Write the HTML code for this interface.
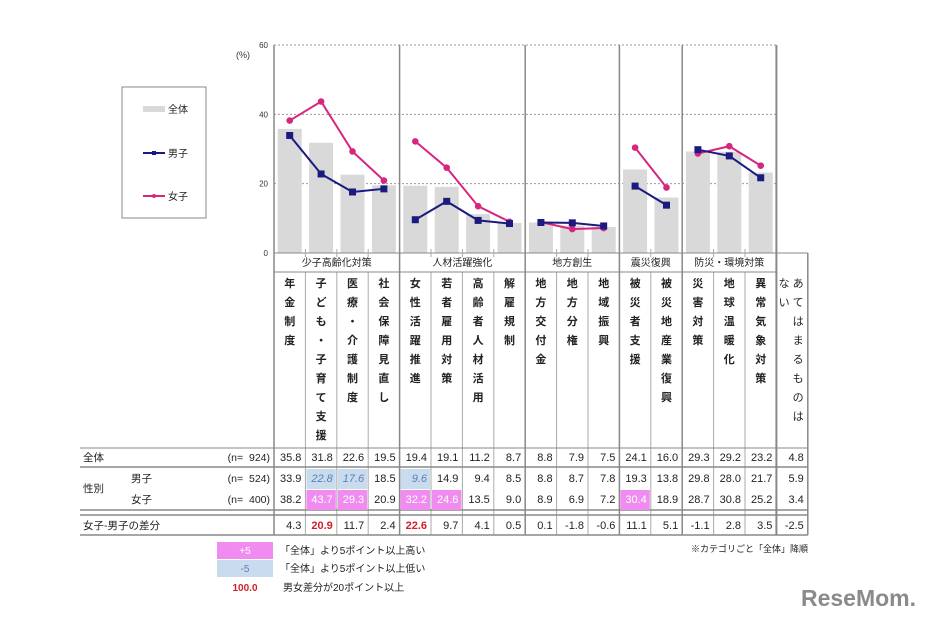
<!DOCTYPE html>
<html><head><meta charset="utf-8"><style>
body{margin:0;background:#fff}
svg{display:block;font-family:"Liberation Sans","Noto Sans CJK JP",sans-serif}
</style></head><body>
<svg id="c" width="930" height="620" viewBox="0 0 930 620"></svg>
<script>
const categories=["年金制度","子ども・子育て支援","医療・介護制度","社会保障見直し","女性活躍推進","若者雇用対策","高齢者人材活用","解雇規制","地方交付金","地方分権","地域振興","被災者支援","被災地産業復興","災害対策","地球温暖化","異常気象対策","あてはまるものはない"];
const totalVals=[35.8,31.8,22.6,19.5,19.4,19.1,11.2,8.7,8.8,7.9,7.5,24.1,16.0,29.3,29.2,23.2,4.8];
const maleVals=[33.9,22.8,17.6,18.5,9.6,14.9,9.4,8.5,8.8,8.7,7.8,19.3,13.8,29.8,28.0,21.7,5.9];
const femaleVals=[38.2,43.7,29.3,20.9,32.2,24.6,13.5,9.0,8.9,6.9,7.2,30.4,18.9,28.7,30.8,25.2,3.4];
const diffVals=[4.3,20.9,11.7,2.4,22.6,9.7,4.1,0.5,0.1,-1.8,-0.6,11.1,5.1,-1.1,2.8,3.5,-2.5];
const groupNames=["少子高齢化対策","人材活躍強化","地方創生","震災復興","防災・環境対策"];
const groupSizes=[4,4,3,2,3];
const yTicks=[0,20,40,60];

const svg=document.getElementById('c');const NS='http://www.w3.org/2000/svg';
function mk(t,a,txt){const e=document.createElementNS(NS,t);for(const k in a)e.setAttribute(k,a[k]);if(txt!=null)e.textContent=txt;svg.appendChild(e);return e;}
const X0=274,CW=31.4,Y0=253,YS=208/60;
const xc=i=>X0+CW*(i+0.5), y=v=>Y0-v*YS;
const nPlot=16,plotR=X0+CW*nPlot;
yTicks.forEach(t=>{
 if(t>0){const g=mk('line',{x1:X0,x2:plotR,y1:y(t),y2:y(t),stroke:'#999','stroke-dasharray':'2,2'});
 }
 const l=mk('text',{x:268,y:y(t)+3,'font-size':8,'text-anchor':'end',fill:'#333'},String(t));
 
});
mk('text',{x:236,y:58,'font-size':9,fill:'#333',},'(%)');
for(let i=0;i<nPlot;i++){
 const b=mk('rect',{x:xc(i)-12,y:y(totalVals[i]),width:24,height:totalVals[i]*YS,fill:'#d9d9d9'});
 
}
let start=0;const bounds=[];
groupSizes.forEach(s=>{bounds.push([start,start+s-1]);start+=s;});
function series(vals,color,shape,name){
 bounds.forEach(([a,b])=>{
  let d='';for(let i=a;i<=b;i++)d+=(i==a?'M':'L')+xc(i)+','+y(vals[i]);
  const p=mk('path',{d:d,fill:'none',stroke:color,'stroke-width':2});
  
 });
 for(let i=0;i<nPlot;i++){
  let m;
  if(shape=='sq')m=mk('rect',{x:xc(i)-3.5,y:y(vals[i])-3.5,width:7,height:7,fill:color});
  else m=mk('circle',{cx:xc(i),cy:y(vals[i]),r:3.3,fill:color});
  
 }
}
series(femaleVals,'#d6267e','ci','female');
series(maleVals,'#1a1a80','sq','male');
mk('line',{x1:X0,x2:X0,y1:45,y2:535,stroke:'#888','stroke-width':1.5});
mk('line',{x1:X0,x2:plotR,y1:Y0,y2:Y0,stroke:'#888'});
let bx=0;
groupSizes.forEach((s,gi)=>{
 const xa=X0+CW*bx,xb=X0+CW*(bx+s);
 const t=mk('text',{x:(xa+xb)/2,y:266,'font-size':10,'text-anchor':'middle',fill:'#222'},groupNames[gi]);
 
 mk('line',{x1:xb,x2:xb,y1:45,y2:535,stroke:'#888','stroke-width':gi==groupSizes.length-1?2:1.5});
 for(let k=1;k<s;k++){const xx=xa+CW*k;mk('line',{x1:xx,x2:xx,y1:272,y2:535,stroke:'#aaa'});mk('line',{x1:xx,x2:xx,y1:249,y2:257,stroke:'#aaa'});}
 bx+=s;
});
mk('line',{x1:plotR+CW,x2:plotR+CW,y1:253,y2:535,stroke:'#888','stroke-width':1.5});
mk('line',{x1:X0,x2:plotR,y1:272,y2:272,stroke:'#888'});
mk('line',{x1:plotR,x2:plotR+CW,y1:253,y2:253,stroke:'#888'});
categories.forEach((c,i)=>{
 const chars=[...c];
 if(i==16){
  const a=[..."あてはまるものは"],b=[..."ない"];
  a.forEach((ch,k)=>mk('text',{x:xc(i)+6,y:287+k*19,'font-size':11,'text-anchor':'middle',fill:'#222'},ch));
  b.forEach((ch,k)=>mk('text',{x:xc(i)-8,y:287+k*19,'font-size':11,'text-anchor':'middle',fill:'#222'},ch));
  return;
 }
 chars.forEach((ch,k)=>{const t=mk('text',{x:xc(i),y:287+k*19,'font-size':11,'font-weight':'bold','text-anchor':'middle',fill:'#222'},ch);
 });
});
const TR=plotR+CW;
[[448,1],[467,1.5],[510,1.5],[515,1.5],[535,1.5]].forEach(([yy,w])=>mk('line',{x1:80,x2:TR,y1:yy,y2:yy,stroke:'#888','stroke-width':w}));
mk('text',{x:83,y:461,'font-size':10.5,fill:'#222'},'全体');
mk('text',{x:83,y:492,'font-size':10.5,fill:'#222'},'性別');
mk('text',{x:131,y:482,'font-size':10.5,fill:'#222'},'男子');
mk('text',{x:131,y:503,'font-size':10.5,fill:'#222'},'女子');
mk('text',{x:83,y:529,'font-size':10.5,fill:'#222'},'女子-男子の差分');
[['(n=\u00a0\u00a0924)',461],['(n=\u00a0\u00a0524)',482],['(n=\u00a0\u00a0400)',503]].forEach(([s,yy])=>mk('text',{x:270,y:yy,'font-size':10.5,'text-anchor':'end',fill:'#222'},s));
function cell(vals,i,yy,top,h,kind){
 const v=vals[i];let fill='#222',style='normal',weight='normal';
 if(kind=='m'&&v<=totalVals[i]-5){mk('rect',{x:X0+CW*i+1,y:top,width:CW-2,height:h,fill:'#c9dcee'});fill='#5b7fb5';style='italic';}
 if(kind=='f'&&v>=totalVals[i]+5){mk('rect',{x:X0+CW*i+1,y:top,width:CW-2,height:h,fill:'#f08cf0'});fill='#fff';}
 if(kind=='d'&&v>=20){fill='#d0202a';weight='bold';}
 const t=mk('text',{x:X0+CW*(i+1)-4,y:yy,'font-size':11,'text-anchor':'end',fill:fill,'font-style':style,'font-weight':weight},v.toFixed(1));
 
}
for(let i=0;i<17;i++){cell(totalVals,i,461,448,19,'t');cell(maleVals,i,482,469,20,'m');cell(femaleVals,i,503,490,20,'f');cell(diffVals,i,529,516,19,'d');}
mk('rect',{x:217,y:542,width:56,height:17,fill:'#f08cf0'});
mk('text',{x:245,y:554,'font-size':10,'text-anchor':'middle',fill:'#fff'},'+5');
mk('rect',{x:217,y:560,width:56,height:17,fill:'#c9dcee'});
mk('text',{x:245,y:572,'font-size':10,'text-anchor':'middle',fill:'#5b7fb5'},'-5');
mk('text',{x:245,y:591,'font-size':10,'font-weight':'bold','text-anchor':'middle',fill:'#d0202a'},'100.0');
mk('text',{x:280,y:554,'font-size':10,fill:'#222'},'「全体」より5ポイント以上高い');
mk('text',{x:280,y:572,'font-size':10,fill:'#222'},'「全体」より5ポイント以上低い');
mk('text',{x:283,y:591,'font-size':10,fill:'#222'},'男女差分が20ポイント以上');
mk('text',{x:808,y:552,'font-size':9,'text-anchor':'end',fill:'#222'},'※カテゴリごと「全体」降順');
mk('rect',{x:122,y:87,width:84,height:131,fill:'#fff',stroke:'#888',});
mk('rect',{x:143,y:106,width:22,height:6,fill:'#d9d9d9'});
mk('text',{x:168,y:113,'font-size':10,fill:'#222'},'全体');
mk('line',{x1:143,x2:165,y1:153,y2:153,stroke:'#1a1a80','stroke-width':2});
mk('rect',{x:152,y:151,width:4,height:4,fill:'#1a1a80'});
mk('text',{x:168,y:157,'font-size':10,fill:'#222'},'男子');
mk('line',{x1:143,x2:165,y1:196,y2:196,stroke:'#d6267e','stroke-width':2});
mk('circle',{cx:154,cy:196,r:2,fill:'#d6267e'});
mk('text',{x:168,y:200,'font-size':10,fill:'#222'},'女子');
mk('text',{x:916,y:606,'font-size':23,'font-weight':'bold','text-anchor':'end',fill:'#8a8a8a',},'ReseMom.');
</script>
</body></html>
